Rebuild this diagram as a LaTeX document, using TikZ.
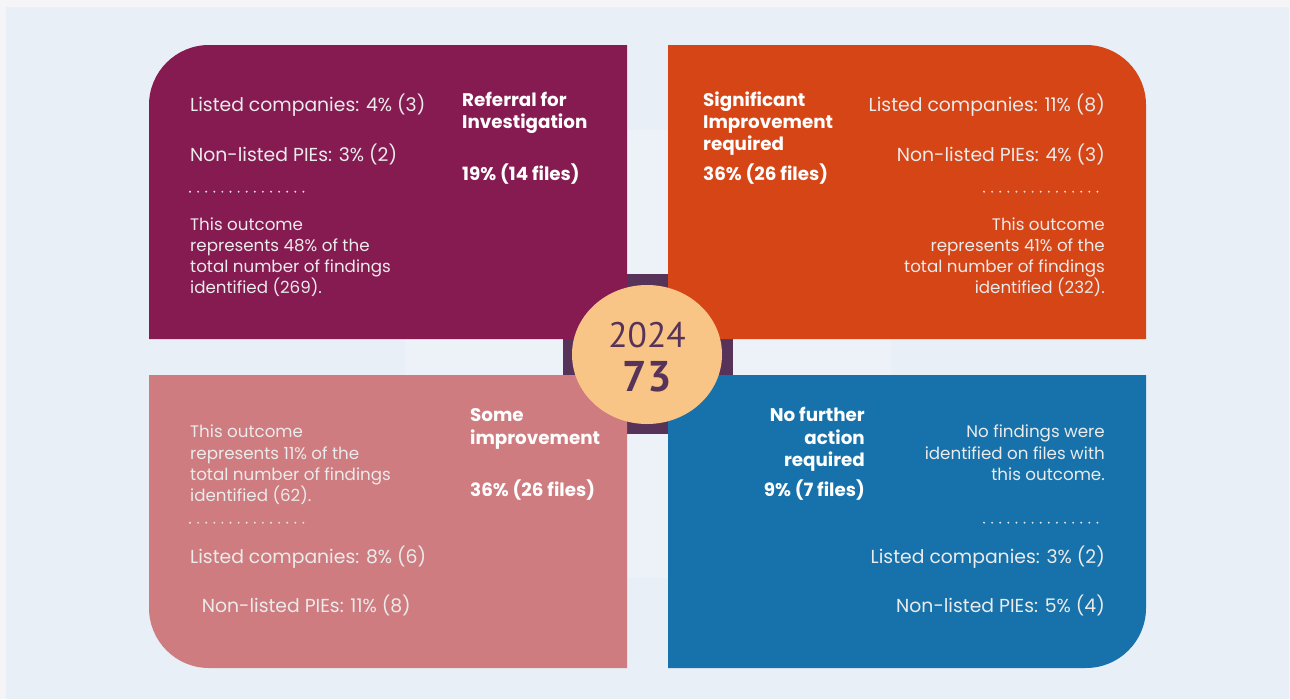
\documentclass[tikz,border=0pt]{standalone}
\usepackage{fontspec}
\usetikzlibrary{shapes.geometric}
\setmainfont{Poppins}
\newfontfamily\circfont{PT Sans}
\definecolor{pageedge}{HTML}{F5F4F7}
\definecolor{bgblue}{HTML}{E8EFF6}
\definecolor{bglight}{HTML}{EDF2F8}
\definecolor{cpurple}{HTML}{861B52}
\definecolor{corange}{HTML}{D54516}
\definecolor{cpink}{HTML}{CF7C80}
\definecolor{cblue}{HTML}{1772AB}
\definecolor{cdark}{HTML}{573359}
\definecolor{ccircle}{HTML}{F9C587}
\tikzset{
  body/.style={inner sep=0pt, text=white!92!black, font=\fontsize{18.8}{21}\selectfont},
  small/.style={inner sep=0pt, text=white!92!black, font=\fontsize{16.7}{21}\selectfont},
  head/.style={inner sep=0pt, text=white, font=\bfseries\fontsize{18.3}{21}\selectfont},
  dotline/.style={draw=white!90!black, line width=2.1pt, line cap=round, dash pattern=on 0pt off 8.1pt},
}
\begin{document}
\begin{tikzpicture}[x=1pt,y=-1pt]
\useasboundingbox (0,0) rectangle (1290,699);
\fill[pageedge] (0,0) rectangle (1290,699);
\fill[bgblue] (6,7) rectangle (1289,699);
\fill[bglight] (405,130) rectangle (891,578);
% centre square behind the quadrants
\fill[cdark] (563,274) rectangle (733,434);
% quadrants
\fill[cpurple] (149,339) -- (149,105) arc[start angle=180,end angle=270,radius=60] -- (627,45) -- (627,339) -- cycle;
\fill[corange] (668,339) -- (668,45) -- (1086,45) arc[start angle=270,end angle=360,radius=60] -- (1146,339) -- cycle;
\fill[cpink] (627,375) -- (149,375) -- (149,608) arc[start angle=180,end angle=90,radius=60] -- (627,668) -- cycle;
\fill[cblue] (668,375) -- (1146,375) -- (1146,608) arc[start angle=0,end angle=90,radius=60] -- (668,668) -- cycle;
% centre disc
\node[ellipse, fill=ccircle, minimum width=150pt, minimum height=139pt, inner sep=0pt] (ctr) at (647,354.5) {};
\node[anchor=base, inner sep=0pt, text=cdark, font=\circfont\fontsize{35.5}{40}\selectfont] (year) at (647,347.3) {2024};
\node[anchor=base, inner sep=0pt, text=cdark, font=\circfont\bfseries\fontsize{43}{44}\selectfont] (total) at (647,391.7) {73};

% ---- top left: Referral for Investigation
\node[body, anchor=base west] (a1) at (190,111) {Listed companies: 4\% (3)};
\node[body, anchor=base west] (a2) at (190,161.7) {Non-listed PIEs: 3\% (2)};
\coordinate (ad1) at (190,191.7);
\coordinate (ad2) at (304,191.7);
\draw[dotline] (ad1) -- (ad2);
\node[small, anchor=base west] (a3) at (190,230) {This outcome};
\node[small, anchor=base west] (a4) at (190,251) {represents 48\% of the};
\node[small, anchor=base west] (a5) at (190,272) {total number of findings};
\node[small, anchor=base west] (a6) at (190,293) {identified (269).};
\node[head, anchor=base west] (ah1) at (462,106.7) {Referral for};
\node[head, anchor=base west] (ah2) at (462,128.3) {Investigation};
\node[head, anchor=base west] (ah3) at (462,180) {19\% (14 files)};

% ---- top right: Significant Improvement required
\node[head, anchor=base west] (bh1) at (703,106.7) {Significant};
\node[head, anchor=base west] (bh2) at (703,128.7) {Improvement};
\node[head, anchor=base west] (bh3) at (703,150.7) {required};
\node[head, anchor=base west] (bh4) at (703,180) {36\% (26 files)};
\node[body, anchor=base east] (b1) at (1105,111.3) {Listed companies: 11\% (8)};
\node[body, anchor=base east] (b2) at (1105,161.7) {Non-listed PIEs: 4\% (3)};
\coordinate (bd1) at (984,191.7);
\coordinate (bd2) at (1098,191.7);
\draw[dotline] (bd1) -- (bd2);
\node[small, anchor=base east] (b3) at (1105,230) {This outcome};
\node[small, anchor=base east] (b4) at (1105,251) {represents 41\% of the};
\node[small, anchor=base east] (b5) at (1105,272) {total number of findings};
\node[small, anchor=base east] (b6) at (1105,293) {identified (232).};

% ---- bottom left: Some improvement
\node[small, anchor=base west] (c1) at (190,437.7) {This outcome};
\node[small, anchor=base west] (c2) at (190,459) {represents 11\% of the};
\node[small, anchor=base west] (c3) at (190,480) {total number of findings};
\node[small, anchor=base west] (c4) at (190,501) {identified (62).};
\coordinate (cd1) at (190,522.7);
\coordinate (cd2) at (304,522.7);
\draw[dotline] (cd1) -- (cd2);
\node[body, anchor=base west] (c5) at (190,563.3) {Listed companies: 8\% (6)};
\node[body, anchor=base west] (c6) at (201.7,612.7) {Non-listed PIEs: 11\% (8)};
\node[head, anchor=base west] (ch1) at (470,421.7) {Some};
\node[head, anchor=base west] (ch2) at (470,444) {improvement};
\node[head, anchor=base west] (ch3) at (470,496.7) {36\% (26 files)};

% ---- bottom right: No further action required
\node[head, anchor=base east] (dh1) at (865,421.7) {No further};
\node[head, anchor=base east] (dh2) at (865,444.5) {action};
\node[head, anchor=base east] (dh3) at (865,466.7) {required};
\node[head, anchor=base east] (dh4) at (865,496) {9\% (7 files)};
\node[small, anchor=base east] (d1) at (1105,437.7) {No findings were};
\node[small, anchor=base east] (d2) at (1105,459) {identified on files with};
\node[small, anchor=base east] (d3) at (1105,480) {this outcome.};
\coordinate (dd1) at (984,522.7);
\coordinate (dd2) at (1098,522.7);
\draw[dotline] (dd1) -- (dd2);
\node[body, anchor=base east] (d4) at (1105,563.3) {Listed companies: 3\% (2)};
\node[body, anchor=base east] (d5) at (1105,612.7) {Non-listed PIEs: 5\% (4)};
\end{tikzpicture}
\end{document}
